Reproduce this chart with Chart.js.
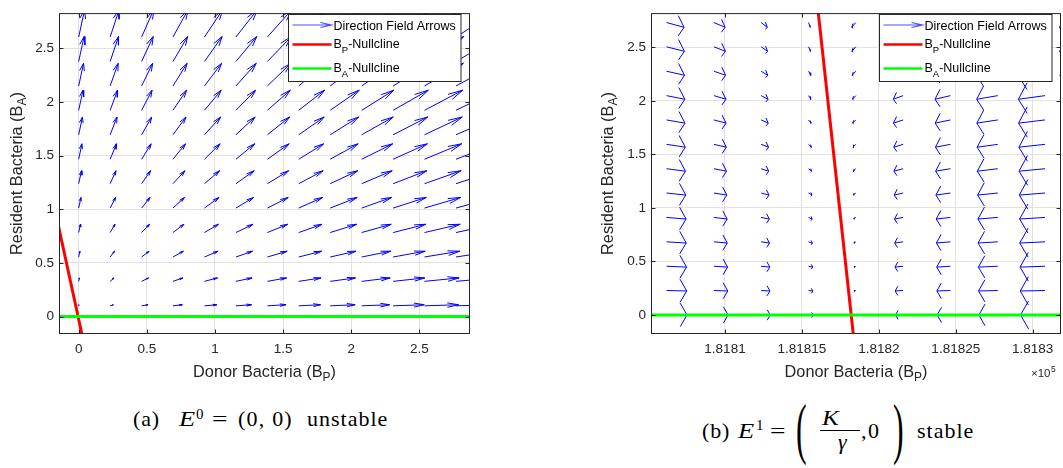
<!DOCTYPE html>
<html><head><meta charset="utf-8">
<script src="https://cdn.jsdelivr.net/npm/chart.js@4.4.1/dist/chart.umd.min.js"></script>
<style>
html,body{margin:0;padding:0;background:#fff;}
#wrap{position:relative;width:1063px;height:468px;overflow:hidden;background:#fff;}
canvas{position:absolute;}
.t{position:absolute;white-space:pre;line-height:1;color:#000;}
</style></head><body>
<div id="wrap">
<canvas id="cA" style="left:0;top:0" width="520" height="390"></canvas>
<canvas id="cB" style="left:590px;top:0" width="473" height="390"></canvas>
</div>
<script>
// ---------- Panel (a) data ----------
const xColsA = [0, 0.231, 0.462, 0.692, 0.923, 1.154, 1.385, 1.615, 1.846, 2.077, 2.308, 2.538, 2.769];
const yRowsA = [0.1, 0.328, 0.555, 0.783, 1.011, 1.238, 1.466, 1.694, 1.922, 2.149, 2.377, 2.605];
const uA = [
 [0.002,0.024,0.047,0.069,0.092,0.115,0.137,0.160,0.183,0.205,0.228,0.250,0.273],
 [0.005,0.028,0.051,0.073,0.096,0.119,0.141,0.164,0.186,0.209,0.232,0.254,0.277],
 [0.009,0.032,0.055,0.077,0.100,0.122,0.145,0.168,0.190,0.213,0.235,0.258,0.281],
 [0.013,0.036,0.058,0.081,0.103,0.126,0.149,0.171,0.194,0.217,0.239,0.262,0.284],
 [0.017,0.040,0.062,0.085,0.107,0.130,0.153,0.175,0.198,0.220,0.243,0.266,0.288],
 [0.021,0.043,0.066,0.088,0.111,0.134,0.156,0.179,0.202,0.224,0.247,0.269,0.292],
 [0.024,0.047,0.070,0.092,0.115,0.138,0.160,0.183,0.205,0.228,0.251,0.273,0.296],
 [0.028,0.051,0.074,0.096,0.119,0.141,0.164,0.187,0.209,0.232,0.254,0.277,0.300],
 [0.032,0.055,0.077,0.100,0.123,0.145,0.168,0.190,0.213,0.236,0.258,0.281,0.303],
 [0.036,0.059,0.081,0.104,0.126,0.149,0.172,0.194,0.217,0.239,0.262,0.285,0.307],
 [0.040,0.062,0.085,0.108,0.130,0.153,0.176,0.198,0.221,0.243,0.266,0.288,0.311],
 [0.044,0.066,0.089,0.111,0.134,0.157,0.179,0.202,0.224,0.247,0.270,0.292,0.315]
];
const vA = [
 [0.010,0.010,0.010,0.010,0.010,0.010,0.010,0.010,0.010,0.010,0.010,0.010,0.010],
 [0.032,0.032,0.032,0.032,0.032,0.032,0.032,0.032,0.032,0.032,0.032,0.032,0.032],
 [0.054,0.054,0.054,0.054,0.054,0.054,0.054,0.054,0.054,0.054,0.054,0.054,0.054],
 [0.077,0.077,0.077,0.077,0.077,0.077,0.077,0.077,0.077,0.077,0.077,0.077,0.077],
 [0.099,0.099,0.099,0.099,0.099,0.099,0.099,0.099,0.099,0.099,0.099,0.099,0.099],
 [0.121,0.121,0.121,0.121,0.121,0.121,0.121,0.121,0.121,0.121,0.121,0.121,0.121],
 [0.144,0.144,0.144,0.144,0.144,0.144,0.144,0.144,0.144,0.144,0.144,0.144,0.144],
 [0.166,0.166,0.166,0.166,0.166,0.166,0.166,0.166,0.166,0.166,0.166,0.166,0.166],
 [0.188,0.188,0.188,0.188,0.188,0.188,0.188,0.188,0.188,0.188,0.188,0.188,0.188],
 [0.211,0.211,0.211,0.211,0.211,0.211,0.211,0.211,0.211,0.211,0.211,0.211,0.211],
 [0.233,0.233,0.233,0.233,0.233,0.233,0.233,0.233,0.233,0.233,0.233,0.233,0.233],
 [0.255,0.255,0.255,0.255,0.255,0.255,0.255,0.255,0.255,0.255,0.255,0.255,0.255]
];
const bpNullA_x = [-0.175, 0.047];
const bpNullA_y = [1.0, -0.3];
const baNullA_x = [-0.3, 3.1];
const baNullA_y = [0, 0];
const xTicksA = [0, 0.5, 1, 1.5, 2, 2.5];
const xTickLabelsA = ['0', '0.5', '1', '1.5', '2', '2.5'];

// ---------- Panel (b) data ----------
const xColsB = [181806.2, 181809.28, 181812.35, 181815.43, 181818.5, 181821.58, 181824.65, 181827.73, 181830.8, 181833.88];
const yRowsB = [0, 0.228, 0.455, 0.683, 0.911, 1.139, 1.366, 1.594, 1.822, 2.049, 2.277, 2.505, 2.732];
const uB = [
 [1.33,0.92,0.59,0.30,-0.07,-0.50,-0.86,-1.23,-1.59,-1.95],
 [1.31,0.90,0.57,0.28,-0.09,-0.52,-0.88,-1.25,-1.61,-1.97],
 [1.30,0.89,0.56,0.27,-0.10,-0.53,-0.89,-1.26,-1.62,-1.98],
 [1.28,0.87,0.54,0.25,-0.12,-0.55,-0.91,-1.28,-1.64,-2.00],
 [1.27,0.86,0.53,0.24,-0.13,-0.56,-0.92,-1.29,-1.65,-2.01],
 [1.25,0.84,0.51,0.22,-0.15,-0.58,-0.94,-1.31,-1.67,-2.03],
 [1.23,0.82,0.49,0.20,-0.17,-0.60,-0.96,-1.33,-1.69,-2.05],
 [1.22,0.81,0.48,0.19,-0.18,-0.61,-0.97,-1.34,-1.70,-2.06],
 [1.20,0.79,0.46,0.17,-0.20,-0.63,-0.99,-1.36,-1.72,-2.08],
 [1.19,0.78,0.45,0.16,-0.21,-0.64,-1.00,-1.37,-1.73,-2.09],
 [1.17,0.76,0.43,0.14,-0.23,-0.66,-1.02,-1.39,-1.75,-2.11],
 [1.16,0.75,0.42,0.13,-0.25,-0.68,-1.04,-1.41,-1.77,-2.13],
 [1.14,0.73,0.40,0.11,-0.26,-0.69,-1.05,-1.42,-1.78,-2.14]
];
const vB = [
 [0,0,0,0,0,0,0,0,0,0],
 [-0.004,-0.004,-0.004,-0.004,-0.004,-0.004,-0.004,-0.004,-0.004,-0.004],
 [-0.008,-0.008,-0.008,-0.008,-0.008,-0.008,-0.008,-0.008,-0.008,-0.008],
 [-0.011,-0.011,-0.011,-0.011,-0.011,-0.011,-0.011,-0.011,-0.011,-0.011],
 [-0.015,-0.015,-0.015,-0.015,-0.015,-0.015,-0.015,-0.015,-0.015,-0.015],
 [-0.019,-0.019,-0.019,-0.019,-0.019,-0.019,-0.019,-0.019,-0.019,-0.019],
 [-0.023,-0.023,-0.023,-0.023,-0.023,-0.023,-0.023,-0.023,-0.023,-0.023],
 [-0.027,-0.027,-0.027,-0.027,-0.027,-0.027,-0.027,-0.027,-0.027,-0.027],
 [-0.030,-0.030,-0.030,-0.030,-0.030,-0.030,-0.030,-0.030,-0.030,-0.030],
 [-0.034,-0.034,-0.034,-0.034,-0.034,-0.034,-0.034,-0.034,-0.034,-0.034],
 [-0.038,-0.038,-0.038,-0.038,-0.038,-0.038,-0.038,-0.038,-0.038,-0.038],
 [-0.042,-0.042,-0.042,-0.042,-0.042,-0.042,-0.042,-0.042,-0.042,-0.042],
 [-0.045,-0.045,-0.045,-0.045,-0.045,-0.045,-0.045,-0.045,-0.045,-0.045]
];
const bpNullB_x = [181815.93, 181818.43];
const bpNullB_y = [3.0, -0.3];
const baNullB_x = [181800, 181840];
const baNullB_y = [0, 0];
const xTicksB = [181810, 181815, 181820, 181825, 181830];
const xTickLabelsB = ['1.8181', '1.81815', '1.8182', '1.81825', '1.8183'];

// ---------- shared ----------
const yTicks = [0, 0.5, 1, 1.5, 2, 2.5];
const yTickLabels = ['0', '0.5', '1', '1.5', '2', '2.5'];
const legendLabels = ['Direction Field Arrows', 'Nullcline'];

Chart.defaults.font.family = "'Liberation Sans', Arial, sans-serif";
const AX = '#262626';
const SANS = "'Liberation Sans', Arial, sans-serif";

function quiverPoints(xs, ys, U, V) {
  const a = 0.33, b = 0.25, pts = [];
  for (let r = 0; r < ys.length; r++) {
    for (let c = 0; c < xs.length; c++) {
      const x = xs[c], y = ys[r], u = U[r][c], v = V[r][c];
      const tx = x + u, ty = y + v;
      pts.push({x: x, y: y}, {x: tx, y: ty}, {x: tx, y: null});
      pts.push({x: tx - a * (u + b * v), y: ty - a * (v - b * u)}, {x: tx, y: ty},
               {x: tx - a * (u - b * v), y: ty - a * (v + b * u)}, {x: tx, y: null});
    }
  }
  return pts;
}
function linePts(xs, ys) { return xs.map((x, i) => ({x: x, y: ys[i]})); }

function richDraw(ctx, parts, x, y, size, subSize, subDy, align) {
  let w = 0;
  const ws = parts.map(p => { ctx.font = (p.sub ? subSize : size) + 'px ' + SANS; const m = ctx.measureText(p.t).width; w += m; return m; });
  let cx = align === 'center' ? x - w / 2 : x;
  ctx.textAlign = 'left'; ctx.textBaseline = 'alphabetic';
  parts.forEach((p, i) => { ctx.font = (p.sub ? subSize : size) + 'px ' + SANS; ctx.fillText(p.t, cx, y + (p.sub ? subDy : 0)); cx += ws[i]; });
}

function framePlugin(cfg) {
  return {
    id: 'frame' + cfg.id,
    afterDatasetsDraw(chart) {
      const ctx = chart.ctx, ca = chart.chartArea, xs = chart.scales.x, ys = chart.scales.y;
      const L = ca.left + 0.5, R = ca.right - 0.5, T = ca.top + 0.5, B = ca.bottom - 0.5;
      ctx.save();
      ctx.strokeStyle = AX; ctx.lineWidth = 1;
      ctx.strokeRect(L, T, R - L, B - T);
      ctx.beginPath();
      const tl = 4;
      cfg.xTicks.forEach(v => { const p = Math.round(xs.getPixelForValue(v)) + 0.5; ctx.moveTo(p, B); ctx.lineTo(p, B - tl); ctx.moveTo(p, T); ctx.lineTo(p, T + tl); });
      yTicks.forEach(v => { const p = Math.round(ys.getPixelForValue(v)) + 0.5; ctx.moveTo(L, p); ctx.lineTo(L + tl, p); ctx.moveTo(R, p); ctx.lineTo(R - tl, p); });
      ctx.stroke();
      // axis titles
      ctx.fillStyle = AX;
      richDraw(ctx, [{t: 'Donor Bacteria (B'}, {t: 'P', sub: true}, {t: ')'}], (ca.left + ca.right) / 2, 376.7, 16.3, 12, 4, 'center');
      ctx.save();
      ctx.translate(cfg.yTitleX, (ca.top + ca.bottom) / 2);
      ctx.rotate(-Math.PI / 2);
      richDraw(ctx, [{t: 'Resident Bacteria (B'}, {t: 'A', sub: true}, {t: ')'}], 0, 0, 16.3, 12, 4, 'center');
      ctx.restore();
      if (cfg.exponent) {
        ctx.font = '11.5px ' + SANS; ctx.textAlign = 'left'; ctx.textBaseline = 'alphabetic';
        ctx.fillText('\u00d710', cfg.exponent[0], cfg.exponent[1]);
        const w = ctx.measureText('\u00d710').width;
        ctx.font = '8.5px ' + SANS;
        ctx.fillText('5', cfg.exponent[0] + w + 0.5, cfg.exponent[1] - 5);
      }
      // legend
      const bw = 172.5, bl = Math.round(ca.right - 10 - bw) + 0.5, bt = 14.5, bh = 67;
      ctx.fillStyle = '#fff'; ctx.fillRect(bl, bt, bw, bh);
      ctx.strokeStyle = AX; ctx.lineWidth = 1; ctx.strokeRect(bl, bt, bw, bh);
      const s0 = bl + 4, s1 = bl + 43;
      ctx.strokeStyle = '#4f4fff'; ctx.lineWidth = 1.2;
      ctx.beginPath(); ctx.moveTo(s0, 25); ctx.lineTo(s1, 25);
      ctx.moveTo(s1 - 11, 22.5); ctx.lineTo(s1, 25); ctx.lineTo(s1 - 11, 27.5); ctx.stroke();
      ctx.lineWidth = 2.6;
      ctx.strokeStyle = '#ff0000'; ctx.beginPath(); ctx.moveTo(s0, 44.5); ctx.lineTo(s1, 44.5); ctx.stroke();
      ctx.strokeStyle = '#00ff00'; ctx.beginPath(); ctx.moveTo(s0, 68.5); ctx.lineTo(s1, 68.5); ctx.stroke();
      ctx.fillStyle = '#000';
      richDraw(ctx, [{t: legendLabels[0]}], bl + 45, 30, 12.5, 9.5, 5, 'left');
      richDraw(ctx, [{t: 'B'}, {t: 'P', sub: true}, {t: '-' + legendLabels[1]}], bl + 45, 48, 12.5, 9.5, 5, 'left');
      richDraw(ctx, [{t: 'B'}, {t: 'A', sub: true}, {t: '-' + legendLabels[1]}], bl + 45, 72, 12.5, 9.5, 5, 'left');
      ctx.restore();
    }
  };
}

function makeChart(canvasId, cfg) {
  return new Chart(document.getElementById(canvasId), {
    type: 'scatter',
    data: {
      datasets: [
        {data: linePts(cfg.gx, cfg.gy), showLine: true, borderColor: '#00ff00', borderWidth: 3, pointRadius: 0, clip: 0, order: 0},
        {data: linePts(cfg.rx, cfg.ry), showLine: true, borderColor: '#ff0000', borderWidth: 3, pointRadius: 0, clip: 0, order: 1},
        {data: quiverPoints(cfg.qx, cfg.qy, cfg.u, cfg.v), showLine: true, spanGaps: false, borderColor: '#0000ff', borderWidth: 1,
         borderJoinStyle: 'round', borderCapStyle: 'butt', pointRadius: 0, clip: 0, order: 2}
      ]
    },
    options: {
      responsive: false, animation: false, events: [],
      layout: {padding: {left: 0, right: cfg.padRight, top: 3, bottom: 0}},
      plugins: {legend: {display: false}, tooltip: {enabled: false}},
      scales: {
        x: {type: 'linear', min: cfg.xmin, max: cfg.xmax,
            afterBuildTicks: s => { s.ticks = cfg.xTicks.map(v => ({value: v})); },
            afterFit: s => { s.height = 56; },
            grid: {color: '#e2e2e2', lineWidth: 1, drawTicks: false},
            border: {display: false},
            ticks: {callback: (v, i) => cfg.xLabels[i], font: {size: 13.5}, color: AX, padding: 7, maxRotation: 0, autoSkip: false}},
        y: {type: 'linear', min: cfg.ymin, max: cfg.ymax,
            afterBuildTicks: s => { s.ticks = yTicks.map(v => ({value: v})); },
            afterFit: s => { s.width = cfg.yWidth; },
            grid: {color: '#e2e2e2', lineWidth: 1, drawTicks: false},
            border: {display: false},
            ticks: {callback: (v, i) => yTickLabels[i], font: {size: 13.5}, color: AX, padding: 5, autoSkip: false}}
      }
    },
    plugins: [framePlugin(cfg)]
  });
}

makeChart('cA', {id: 'A', gx: baNullA_x, gy: baNullA_y, rx: bpNullA_x, ry: bpNullA_y, qx: xColsA, qy: yRowsA, u: uA, v: vA,
  xmin: -0.1443, xmax: 2.8718, ymin: -0.1626, ymax: 2.828, xTicks: xTicksA, xLabels: xTickLabelsA,
  padRight: 50, yWidth: 59, yTitleX: 21.7});
makeChart('cB', {id: 'B', gx: baNullB_x, gy: baNullB_y, rx: bpNullB_x, ry: bpNullB_y, qx: xColsB, qy: yRowsB, u: uB, v: vB,
  xmin: 181805.19, xmax: 181831.84, ymin: -0.178, ymax: 2.820, xTicks: xTicksB, xLabels: xTickLabelsB,
  padRight: 2, yWidth: 61, yTitleX: 23.4, exponent: [441, 377]});

// ---------- captions ----------
const wrap = document.getElementById('wrap');
const SERIF = "'Liberation Serif','Times New Roman',serif";
function place(txt, x, base, size, opts) {
  opts = opts || {};
  const s = document.createElement('span');
  s.className = 't'; s.textContent = txt;
  s.style.fontFamily = SERIF; s.style.fontSize = size + 'px';
  s.style.left = x + 'px'; s.style.top = (base - 0.8375 * size) + 'px';
  if (opts.italic) s.style.fontStyle = 'italic';
  if (opts.ls) s.style.letterSpacing = opts.ls + 'px';
  if (opts.tf) { s.style.transform = opts.tf; s.style.transformOrigin = 'left center'; }
  wrap.appendChild(s);
}
// (a)
place('(a)', 133, 426.7, 22, {ls: 0.8});
place('E', 179, 426.7, 22, {italic: true, tf: 'scaleX(1.2)'});
place('0', 196, 419.5, 15);
place('=', 212, 426.7, 22, {tf: 'scaleX(1.25)'});
place('(0, 0)', 238, 426.7, 22, {ls: 1.2});
place('unstable', 307, 426.7, 22, {ls: 1});
// (b)
place('(b)', 702, 438.3, 22, {ls: 0.8});
place('E', 738, 438.3, 22, {italic: true, tf: 'scaleX(1.2)'});
place('1', 756, 431, 15);
place('=', 770, 438.3, 22, {tf: 'scaleX(1.25)'});
place('(', 796, 437, 22, {tf: 'scale(1.45, 3.05)'});
place('K', 822, 425, 22, {italic: true, tf: 'scaleX(1.15)'});
const bar = document.createElement('div');
bar.style.cssText = 'position:absolute;left:820px;top:430px;width:40px;height:1.2px;background:#000;';
wrap.appendChild(bar);
place('\u03b3', 838, 449, 22, {italic: true});
place(',', 861, 438.3, 22);
place('0', 868, 438.3, 22);
place(')', 893, 437, 22, {tf: 'scale(1.45, 3.05)'});
place('stable', 917, 438.3, 22, {ls: 1});
</script>
</body></html>
